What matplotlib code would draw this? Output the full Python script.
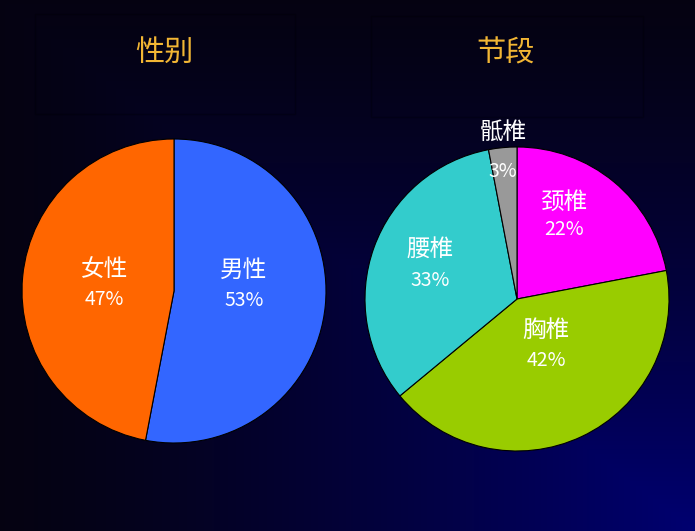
import numpy as np
import matplotlib
matplotlib.use('Agg')
import matplotlib.pyplot as plt
from matplotlib.patches import Rectangle

plt.rcParams['font.family'] = ['Noto Sans CJK SC', 'DejaVu Sans']

# data
gender_title = '性别'
gender_labels = ['男性', '女性']
gender_values = [53, 47]

segment_title = '节段'
segment_labels = ['颈椎', '胸椎', '腰椎', '骶椎']
segment_values = [22, 42, 33, 3]

# styles
gender_colors = ['#3366FF', '#FF6600']
segment_colors = ['#FF00FF', '#99CC00', '#33CCCC', '#999999']
title_color = '#F2B634'
# label block: (radius, angle tweak in deg, half gap between name and pct)
gender_lbl = [(0.46, 10, 0.10), (0.46, 0, 0.10)]
segment_lbl = [(0.63, 10, 0.09), (0.36, 7, 0.10), (0.61, -1.5, 0.10), (0.97, 0, 0.13)]

W, H = 695, 531
fig = plt.figure(figsize=(W / 100, H / 100), dpi=100)

# background: corner gradient, bright at bottom right
bg = fig.add_axes([0, 0, 1, 1])
xx, yy = np.meshgrid(np.linspace(0, 1, W), np.linspace(0, 1, H))
t = np.maximum(1 - xx, 1 - yy)  # yy=1 at bottom (origin upper)
dark = np.array([0.02, 0.01, 0.07])
light = np.array([0.0, 0.0, 0.44])
img = dark + (light - dark) * (1 - t)[..., None] ** 1.3
bg.imshow(img, extent=[0, W, H, 0], aspect='auto', origin='upper',
          interpolation='bilinear')
# faint title frames
bg.add_patch(Rectangle((35, 14), 260, 100, fill=False, ec=(0, 0, 0), lw=1.0, alpha=0.25))
bg.add_patch(Rectangle((371, 16), 272, 101, fill=False, ec=(0, 0, 0), lw=1.0, alpha=0.25))
bg.text(164, 53, gender_title, color=title_color, fontsize=21,
        ha='center', va='center')
bg.text(506, 53, segment_title, color=title_color, fontsize=21,
        ha='center', va='center')
bg.set_xlim(0, W)
bg.set_ylim(H, 0)
bg.axis('off')


def draw_pie(cx, cy, r, labels, values, colors, lbl):
    ax = fig.add_axes([(cx - r) / W, (H - cy - r) / H, 2 * r / W, 2 * r / H])
    wedges, _ = ax.pie(values, colors=colors, startangle=90, counterclock=False,
                       radius=1, wedgeprops=dict(edgecolor='black', linewidth=0.8))
    total = sum(values)
    for w, name, v, (rr, dth, gap) in zip(wedges, labels, values, lbl):
        mid = np.deg2rad((w.theta1 + w.theta2) / 2 + dth)
        x, y = rr * np.cos(mid), rr * np.sin(mid)
        ax.text(x, y + gap, name, color='white', fontsize=17,
                ha='center', va='center')
        ax.text(x, y - gap, '%d%%' % round(100 * v / total), color='white',
                fontsize=14, ha='center', va='center')
    ax.set_xlim(-1, 1)
    ax.set_ylim(-1, 1)
    ax.axis('off')
    return ax


draw_pie(174, 291, 152, gender_labels, gender_values, gender_colors, gender_lbl)
draw_pie(517, 299, 152, segment_labels, segment_values, segment_colors, segment_lbl)

fig.savefig('out.png', dpi=100)
